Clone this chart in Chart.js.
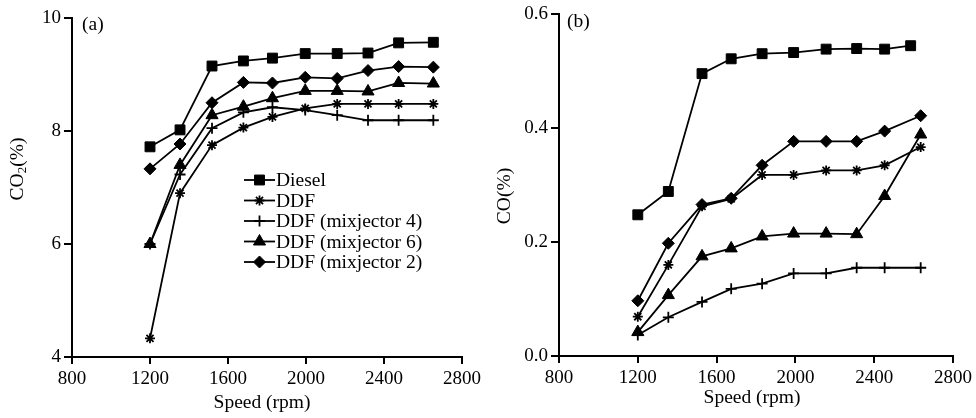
<!DOCTYPE html>
<html>
<head>
<meta charset="utf-8">
<script src="https://cdn.jsdelivr.net/npm/chart.js@4.4.1/dist/chart.umd.min.js"></script>
<style>
  html, body { margin: 0; padding: 0; background: #fff; }
  #wrap { position: relative; width: 976px; height: 418px; }
  .panel { position: absolute; top: 0; width: 488px; height: 418px; }
</style>
</head>
<body>
<div id="wrap">
  <div class="panel" style="left:0"><canvas id="co2Chart" width="488" height="418"></canvas></div>
  <div class="panel" style="left:488px"><canvas id="coChart" width="488" height="418"></canvas></div>
</div>
<script>
/* ===== emissions vs engine speed: CO2 (a) and CO (b) ===== */
const seriesNames = ["Diesel", "DDF", "DDF (mixjector 4)", "DDF (mixjector 6)", "DDF (mixjector 2)"];
const markers     = ["rect", "star", "cross", "triangle", "rectRot"];
const markerSize  = [7, 5, 5.5, 7, 6];

const speedTicks = [800, 1200, 1600, 2000, 2400, 2800];

// (a) CO2 %
const co2Speed   = [1200, 1354, 1518, 1679, 1828, 1996, 2160, 2318, 2475, 2653];
const co2Diesel  = [7.72, 8.02, 9.15, 9.24, 9.29, 9.37, 9.37, 9.38, 9.56, 9.57];
const co2DDF     = [4.33, 6.90, 7.75, 8.06, 8.25, 8.40, 8.48, 8.48, 8.48, 8.48];
const co2Mix4    = [6.00, 7.23, 8.05, 8.33, 8.42, 8.37, 8.28, 8.19, 8.19, 8.19];
const co2Mix6    = [6.00, 7.40, 8.28, 8.43, 8.58, 8.71, 8.71, 8.70, 8.85, 8.84];
const co2Mix2    = [7.33, 7.77, 8.50, 8.86, 8.85, 8.95, 8.93, 9.07, 9.14, 9.13];
const co2Ticks   = [4, 6, 8, 10];

// (b) CO %
const coSpeedDiesel = [1200, 1355, 1526, 1674, 1831, 1991, 2156, 2311, 2453, 2585];
const coSpeed       = [1200, 1355, 1526, 1674, 1831, 1991, 2156, 2311, 2453, 2636];
const coDiesel  = [0.248, 0.289, 0.496, 0.522, 0.531, 0.533, 0.539, 0.540, 0.539, 0.545];
const coDDF     = [0.069, 0.160, 0.263, 0.276, 0.318, 0.318, 0.326, 0.326, 0.335, 0.367];
const coMix4    = [0.037, 0.068, 0.095, 0.118, 0.127, 0.145, 0.145, 0.155, 0.155, 0.155];
const coMix6    = [0.042, 0.107, 0.175, 0.189, 0.210, 0.215, 0.215, 0.214, 0.281, 0.389];
const coMix2    = [0.097, 0.198, 0.266, 0.277, 0.335, 0.377, 0.377, 0.377, 0.395, 0.422];
const coTicks   = [0.0, 0.2, 0.4, 0.6];

const SERIF = '"Liberation Serif", "Times New Roman", serif';
const INK = "#000";
const TXT = 19.5;   // label size

const toPoints = (xs, ys) => xs.map((x, i) => ({ x, y: ys[i] }));

function makeDataset(i, xs, ys) {
  const filled = markers[i] !== "star" && markers[i] !== "cross";
  return {
    label: seriesNames[i],
    data: toPoints(xs, ys),
    borderColor: INK,
    backgroundColor: INK,
    borderWidth: 1.8,
    pointStyle: markers[i],
    pointRadius: markerSize[i],
    pointHoverRadius: markerSize[i],
    pointBorderWidth: filled ? 1 : 1.8,
    pointBackgroundColor: INK,
    pointBorderColor: INK,
    tension: 0
  };
}

// little helper to draw a marker outside the dataset (legend)
function marker(ctx, style, r, x, y, bw) {
  ctx.fillStyle = INK; ctx.strokeStyle = INK; ctx.lineWidth = bw;
  if (Chart.helpers && Chart.helpers.drawPoint) {
    Chart.helpers.drawPoint(ctx, { pointStyle: style, radius: r, rotation: 0, borderWidth: bw }, x, y);
  }
}

// titles, panel tag and in-plot legend
const decor = {
  id: "decor",
  afterDraw(chart, args, o) {
    const ctx = chart.ctx;
    ctx.save();
    ctx.fillStyle = INK;
    ctx.font = `${TXT}px ${SERIF}`;

    // panel tag
    ctx.textAlign = "left"; ctx.textBaseline = "middle";
    ctx.fillText(o.tag, o.tagX, o.tagY);

    // x title
    ctx.textAlign = "center"; ctx.textBaseline = "alphabetic";
    ctx.fillText("Speed (rpm)", o.xTitleX, o.xTitleY);

    // y title, rotated, with optional subscript
    ctx.translate(o.yTitleX, o.yTitleY);
    ctx.rotate(-Math.PI / 2);
    ctx.textAlign = "left"; ctx.textBaseline = "middle";
    const parts = o.yTitle;   // [[text, size, dy], ...]
    let w = 0;
    parts.forEach(p => { ctx.font = `${p[1]}px ${SERIF}`; w += ctx.measureText(p[0]).width; });
    let x = -w / 2;
    parts.forEach(p => {
      ctx.font = `${p[1]}px ${SERIF}`;
      ctx.fillText(p[0], x, p[2]);
      x += ctx.measureText(p[0]).width;
    });
    ctx.restore();

    if (!o.legend) return;
    ctx.save();
    const lg = o.legend;
    ctx.font = `${TXT}px ${SERIF}`;
    ctx.textAlign = "left"; ctx.textBaseline = "middle";
    seriesNames.forEach((name, i) => {
      const y = lg.y + i * lg.step;
      ctx.strokeStyle = INK; ctx.lineWidth = 1.8;
      ctx.beginPath(); ctx.moveTo(lg.x0, y); ctx.lineTo(lg.x1, y); ctx.stroke();
      const filled = markers[i] !== "star" && markers[i] !== "cross";
      marker(ctx, markers[i], markerSize[i], (lg.x0 + lg.x1) / 2, y, filled ? 1 : 1.8);
      ctx.fillStyle = INK;
      ctx.fillText(name, lg.x1 + 1, y + 1);
    });
    ctx.restore();
  }
};

function axis(min, max, ticks, fmt, tickLen, pad, fit) {
  return {
    type: "linear",
    min, max,
    afterBuildTicks: s => { s.ticks = ticks.map(v => ({ value: v })); },
    ticks: { color: INK, font: { family: SERIF, size: 19 }, padding: pad, callback: fmt, autoSkip: false, maxRotation: 0 },
    grid: { display: true, drawOnChartArea: false, drawTicks: true, tickLength: tickLen, color: INK, lineWidth: 2 },
    border: { display: true, color: INK, width: 2 },
    afterFit: fit
  };
}

function buildPanel(id, datasets, yMin, yMax, yTicks, yFmt, box, deco) {
  return new Chart(document.getElementById(id), {
    type: "line",
    data: { datasets },
    options: {
      responsive: false,
      animation: false,
      events: [],
      layout: { padding: { left: 0, right: 488 - box.right, top: box.top, bottom: 0 } },
      plugins: { legend: { display: false }, tooltip: { enabled: false }, decor: deco },
      scales: {
        x: axis(800, 2800, speedTicks, v => String(v), 7, 4, s => { s.height = 418 - box.bottom; }),
        y: axis(yMin, yMax, yTicks, yFmt, 8, 3, s => { s.width = box.left; })
      }
    },
    plugins: [decor]
  });
}

buildPanel("co2Chart", [
  makeDataset(0, co2Speed, co2Diesel),
  makeDataset(1, co2Speed, co2DDF),
  makeDataset(2, co2Speed, co2Mix4),
  makeDataset(3, co2Speed, co2Mix6),
  makeDataset(4, co2Speed, co2Mix2)
], 4, 10, co2Ticks, v => String(v),
  { left: 72, right: 462, top: 18, bottom: 357 },
  { tag: "(a)", tagX: 82, tagY: 25,
    xTitleX: 262, xTitleY: 408,
    yTitleX: 18, yTitleY: 169, yTitle: [["CO", TXT, 0], ["2", 13, 5], ["(%)", TXT, 0]],
    legend: { x0: 244, x1: 275, y: 180, step: 20.5 } });

buildPanel("coChart", [
  makeDataset(0, coSpeedDiesel, coDiesel),
  makeDataset(1, coSpeed, coDDF),
  makeDataset(2, coSpeed, coMix4),
  makeDataset(3, coSpeed, coMix6),
  makeDataset(4, coSpeed, coMix2)
], 0, 0.6, coTicks, v => v.toFixed(1),
  { left: 71, right: 467, top: 14, bottom: 356 },
  { tag: "(b)", tagX: 79, tagY: 22,
    xTitleX: 264, xTitleY: 403,
    yTitleX: 17, yTitleY: 196, yTitle: [["CO(%)", TXT, 0]],
    legend: null });
</script>
</body>
</html>
